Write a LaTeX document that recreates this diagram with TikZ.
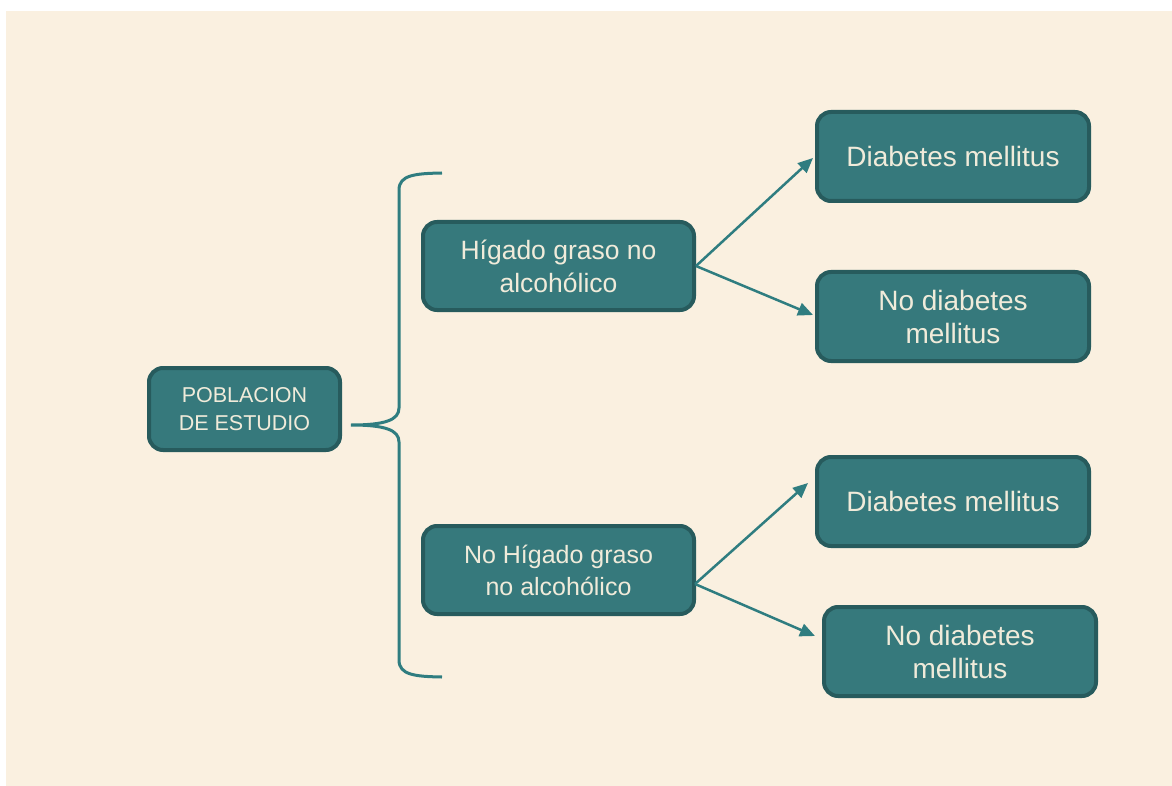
\documentclass[tikz,border=0pt]{standalone}
\usepackage{fontspec}
\setmainfont{Liberation Sans}
\usetikzlibrary{arrows.meta,calc}
\definecolor{bgcream}{HTML}{FAF0E0}
\definecolor{boxfill}{HTML}{36797C}
\definecolor{boxedge}{HTML}{275B5D}
\definecolor{linecol}{HTML}{2F7D80}
\definecolor{txtcol}{HTML}{F0EBDA}
\begin{document}
\begin{tikzpicture}[x=1pt,y=-1pt,
  box/.style={draw=boxedge,fill=boxfill,line width=4pt,rounded corners=14pt,
    text=txtcol,align=center,inner sep=0pt,minimum width=272pt,minimum height=89pt},
  arr/.style={draw=linecol,line width=2.5pt,-{Triangle[length=15pt,width=13pt]}},
  brace/.style={draw=linecol,line width=3pt}]
\fill[white] (0,0) rectangle (1172,786);
\fill[bgcream] (6,11) rectangle (1172,786);
\useasboundingbox (0,0) rectangle (1172,786);

\node[box,minimum width=191pt,minimum height=82pt,font=\fontsize{21.5}{28}\selectfont] (pob) at (244.5,409) {POBLACION\\DE ESTUDIO};
\node[box,minimum width=271pt,minimum height=88pt,font=\fontsize{26.5}{33}\selectfont] (hig) at (558.5,266) {Hígado graso no\\alcohólico};
\node[box,minimum width=271pt,minimum height=88pt,font=\fontsize{25}{32}\selectfont] (nohig) at (558.5,570) {No Hígado graso\\no alcohólico};
\node[box,font=\fontsize{28}{33}\selectfont] (dm1) at (953,156.5) {Diabetes mellitus};
\node[box,font=\fontsize{28}{33}\selectfont] (nodm1) at (953,316.5) {No diabetes\\mellitus};
\node[box,font=\fontsize{28}{33}\selectfont] (dm2) at (953,501.5) {Diabetes mellitus};
\node[box,font=\fontsize{28}{33}\selectfont] (nodm2) at (960,651.5) {No diabetes\\mellitus};

% brace
\coordinate (tip) at ($(pob.east)+(9,16)$);
\draw[brace] (442,173) .. controls (415,173.5) and (399,175) .. (399,190)
  -- (399,408) .. controls (399,420) and (385,425) .. (tip)
  .. controls (385,425) and (399,430) .. (399,442)
  -- (399,660) .. controls (399,675) and (415,676.5) .. (442,677);

\draw[arr] (hig.east) -- ($(dm1.west)+(-2,1.5)$);
\draw[arr] (hig.east) -- ($(nodm1.west)+(-2,-1.5)$);
\draw[arr] ($(nohig.east)+(-1,14)$) -- ($(dm2.west)+(-7,-18.5)$);
\draw[arr] ($(nohig.east)+(-1,14)$) -- ($(nodm2.west)+(-7,-15.5)$);
\end{tikzpicture}
\end{document}
